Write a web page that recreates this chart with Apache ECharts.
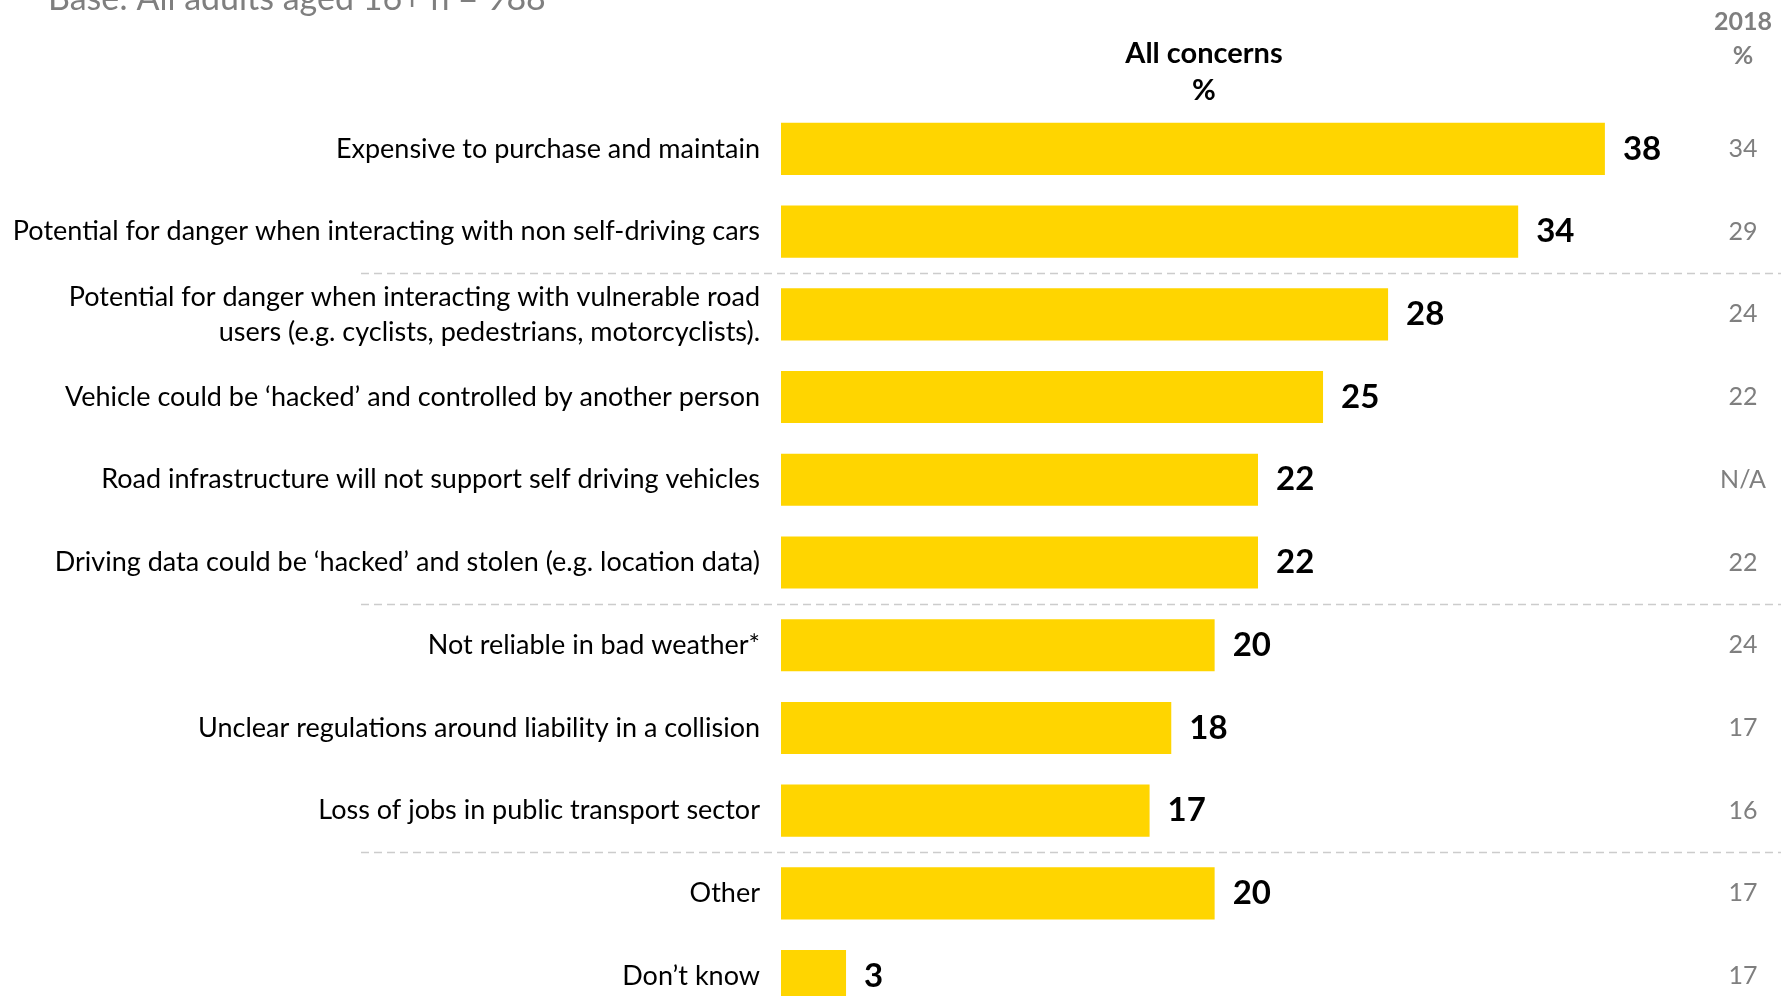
<!DOCTYPE html>
<html>
<head>
<meta charset="utf-8">
<script src="https://cdn.jsdelivr.net/npm/echarts@6/dist/echarts.min.js"></script>
<style>
html,body{margin:0;padding:0;background:#fff;overflow:hidden;}
#chart{width:1781px;height:1030px;}
</style>
</head>
<body>
<div id="chart"></div>
<script>
const categories = [
  "Expensive to purchase and maintain",
  "Potential for danger when interacting with non self-driving cars",
  "Potential for danger when interacting with vulnerable road\nusers (e.g. cyclists, pedestrians, motorcyclists).",
  "Vehicle could be \u2018hacked\u2019 and controlled by another person",
  "Road infrastructure will not support self driving vehicles",
  "Driving data could be \u2018hacked\u2019 and stolen (e.g. location data)",
  "Not reliable in bad weather*",
  "Unclear regulations around liability in a collision",
  "Loss of jobs in public transport sector",
  "Other",
  "Don\u2019t know"
];
const allConcerns = [38, 34, 28, 25, 22, 22, 20, 18, 17, 20, 3];
const values2018 = ["34", "29", "24", "22", "N/A", "22", "24", "17", "16", "17", "17"];
const separatorsAfter = [1, 5, 8];

const FONT = "Lato";
const chart = echarts.init(document.getElementById('chart'));
const option = {
  animation: false,
  backgroundColor: '#ffffff',
  grid: { left: 781, top: 107.5, width: 998, height: 910, containLabel: false },
  xAxis: {
    type: 'value', min: 0, max: 46.03,
    show: false
  },
  yAxis: [{
    type: 'category', data: categories, inverse: true,
    axisLine: { show: false }, axisTick: { show: false }, splitLine: { show: false },
    axisLabel: { margin: 21, fontFamily: FONT, fontSize: 27, color: '#000', lineHeight: 35, padding: [10, 0, 0, 0] }
  }, {
    type: 'category', data: values2018, inverse: true, position: 'right',
    axisLine: { show: false }, axisTick: { show: false }, splitLine: { show: false },
    axisLabel: { margin: -36, align: 'center', fontFamily: FONT, fontSize: 25, color: '#7f7f7f' }
  }],
  series: [{
    type: 'bar', data: allConcerns, yAxisIndex: 0,
    barCategoryGap: '37%',
    itemStyle: { color: '#FFD500' },
    label: { show: true, position: 'right', distance: 18, fontFamily: FONT, fontWeight: 'bold', fontSize: 33, color: '#000', padding: [8, 0, 0, 0] }
  }]
};
chart.setOption(option);

const gfx = [];
separatorsAfter.forEach(i => {
  const y = (chart.convertToPixel({ yAxisIndex: 0 }, i) + chart.convertToPixel({ yAxisIndex: 0 }, i + 1)) / 2;
  gfx.push({ type: 'line', shape: { x1: 361, y1: Math.round(y) + 0.5, x2: 1781, y2: Math.round(y) + 0.5 },
    style: { stroke: '#cccccc', lineWidth: 1.5, lineDash: [8, 5] } });
});
gfx.push({ type: 'text', x: 48, y: -18, style: { text: 'Base: All adults aged 16+ n = 988', fontFamily: FONT, fontSize: 34, fill: '#7f7f7f' } });
gfx.push({ type: 'text', x: 1204, y: 54, style: { text: 'All concerns', fontFamily: FONT, fontWeight: 'bold', fontSize: 29, fill: '#000', align: 'center', verticalAlign: 'middle' } });
gfx.push({ type: 'text', x: 1204, y: 91, style: { text: '%', fontFamily: FONT, fontWeight: 'bold', fontSize: 29, fill: '#000', align: 'center', verticalAlign: 'middle' } });
gfx.push({ type: 'text', x: 1743, y: 22, style: { text: '2018', fontFamily: FONT, fontWeight: 'bold', fontSize: 25, fill: '#7f7f7f', align: 'center', verticalAlign: 'middle' } });
gfx.push({ type: 'text', x: 1743, y: 56, style: { text: '%', fontFamily: FONT, fontWeight: 'bold', fontSize: 25, fill: '#7f7f7f', align: 'center', verticalAlign: 'middle' } });
chart.setOption({ graphic: gfx });
</script>
</body>
</html>
